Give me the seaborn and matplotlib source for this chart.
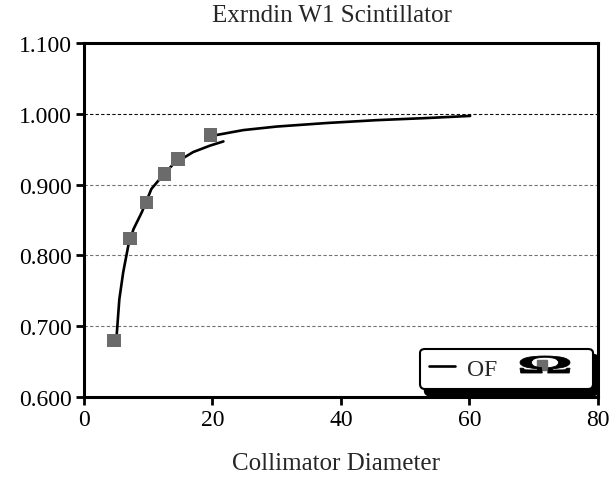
import numpy as np
import pandas as pd
import matplotlib
matplotlib.use("Agg")
import matplotlib.pyplot as plt
from matplotlib.lines import Line2D
from matplotlib.textpath import TextPath
from matplotlib.patches import PathPatch
from matplotlib.font_manager import FontProperties
from matplotlib.transforms import Affine2D
import seaborn as sns

# measured points (collimator diameter vs output factor)
meas_x = [4.7, 7.2, 9.7, 12.5, 14.6, 19.7]
meas_y = [0.680, 0.824, 0.875, 0.915, 0.936, 0.970]

# fitted curve, lower branch
fit1_x = [5.1, 5.5, 6.1, 6.9, 7.7, 9.0, 10.5, 11.8, 13.9, 17.0, 19.6, 21.7]
fit1_y = [0.689, 0.738, 0.776, 0.814, 0.837, 0.861, 0.894, 0.908, 0.929, 0.946, 0.955, 0.961]

# fitted curve, upper branch
fit2_x = [20.6, 24.8, 30.0, 37.8, 45.5, 53.3, 60.1]
fit2_y = [0.970, 0.977, 0.982, 0.987, 0.991, 0.994, 0.997]

x_ticks = [0, 20, 40, 60, 80]
y_ticks = [0.6, 0.7, 0.8, 0.9, 1.0, 1.1]

sns.set_theme(style="ticks")
plt.rcParams["font.family"] = ["Liberation Serif", "DejaVu Serif"]
plt.rcParams["font.size"] = 17

fig = plt.figure(figsize=(6.1, 4.81), dpi=100)
ax = fig.add_axes([0.1377, 0.1726, 0.8426, 0.7359])

df1 = pd.DataFrame({"x": fit1_x, "y": fit1_y})
df2 = pd.DataFrame({"x": fit2_x, "y": fit2_y})
dm = pd.DataFrame({"x": meas_x, "y": meas_y})

sns.lineplot(data=df1, x="x", y="y", sort=False, color="black", linewidth=1.9, ax=ax, zorder=3)
sns.lineplot(data=df2, x="x", y="y", sort=False, color="black", linewidth=1.9, ax=ax, zorder=3)
sns.scatterplot(data=dm, x="x", y="y", marker="s", s=95, color="#6b6b6b",
                edgecolor="none", ax=ax, zorder=4)

# horizontal dotted gridlines
for yv in y_ticks[1:-1]:
    ax.axhline(yv, color="black", linewidth=0.8, linestyle=(0, (3, 2)),
               alpha=0.95 if yv == 1.0 else 0.55, zorder=1)

ax.set_xlim(0, 80)
ax.set_ylim(0.6, 1.1)
ax.set_xticks(x_ticks)
ax.set_yticks(y_ticks)
ax.set_yticklabels([f"{v:.3f}" for v in y_ticks])
ax.tick_params(axis="both", direction="out", length=6, width=2, colors="black",
               labelsize=17, pad=3)
for side in ["left", "bottom", "top", "right"]:
    ax.spines[side].set_visible(True)
    ax.spines[side].set_color("black")
    ax.spines[side].set_linewidth(2.2)

ax.set_title("Exrndin W1 Scintillator", fontsize=18, pad=16, x=0.4825)
ax.set_xlabel("Collimator Diameter", fontsize=18, labelpad=19)
ax.xaxis.set_label_coords(0.49, -0.155)
ax.set_ylabel("")

handle = Line2D([], [], color="black", linewidth=1.9)
leg = ax.legend([handle], ["OF"], loc="lower left",
                bbox_to_anchor=(0.6537, 0.0226, 0.3366, 0.124), mode="expand",
                borderaxespad=0, fancybox=True, frameon=True,
                handlelength=1.1, handletextpad=0.5, borderpad=0.4, fontsize=17,
                shadow={"color": "black", "alpha": 1, "ox": 3.5, "oy": -4.5})
leg.get_frame().set_edgecolor("black")
leg.get_frame().set_linewidth(1.5)
leg.get_frame().set_facecolor("white")
leg.get_frame().set_alpha(1)
leg.set_zorder(8)

# legend marker drawn over a wide bold omega glyph (pixel placement)
omega = TextPath((0, 0), "\u03a9", size=1,
                 prop=FontProperties(family="Liberation Serif", weight="bold"))
ext = omega.get_extents()
sx, sy = 50 / ext.width, 17 / ext.height
tr = (Affine2D().translate(-ext.x0 - ext.width / 2, -ext.y0 - ext.height / 2)
      .scale(sx, sy).translate(545, 481 - 365.5))
fig.patches.append(PathPatch(omega, transform=tr, facecolor="black",
                             edgecolor="black", linewidth=0.6, zorder=10))
ax.plot([0.891], [0.0904], marker="s", markersize=7.5, color="#6b6b6b",
        transform=ax.transAxes, zorder=11, clip_on=False)

fig.savefig("out.png", dpi=100)
